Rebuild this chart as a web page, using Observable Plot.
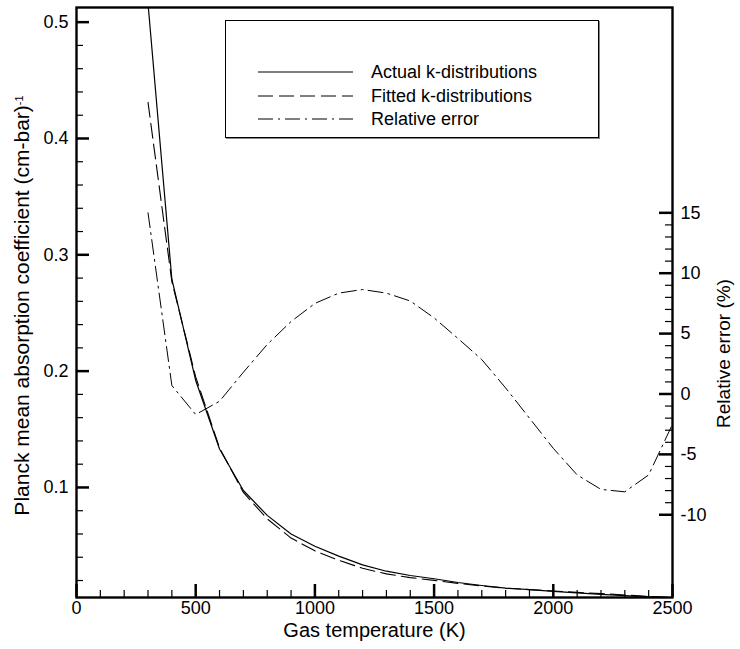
<!DOCTYPE html>
<html><head><meta charset="utf-8">
<script src="https://cdn.jsdelivr.net/npm/d3@7"></script>
<script src="https://cdn.jsdelivr.net/npm/@observablehq/plot@0.6"></script>
<style>
body{margin:0;background:#fff;}
#wrap{position:relative;width:740px;height:649px;font-family:"Liberation Sans",Arial,Helvetica,sans-serif;}
#legend{position:absolute;left:225px;top:20px;width:372px;height:116px;border:1px solid #000;background:#fff;box-shadow:1px 1px 0 #888;}
</style></head><body><div id="wrap"></div>
<script>
// ---- data ----
const temperature = [300,400,500,600,700,800,900,1000,1100,1200,1300,1400,1500,1600,1700,1800,1900,2000,2100,2200,2300,2400,2500];
const actualK = [0.516,0.279,0.192,0.133,0.0974,0.076,0.060,0.0495,0.041,0.0335,0.028,0.0243,0.0215,0.0183,0.0157,0.0135,0.0121,0.0106,0.0093,0.0081,0.0070,0.0060,0.0052];
const fittedK = [0.431,0.277,0.195,0.134,0.0957,0.0730,0.0565,0.0455,0.0374,0.0305,0.0257,0.0225,0.0201,0.0175,0.0153,0.0134,0.0122,0.0110,0.0098,0.0087,0.0076,0.0064,0.0053];
const relError = [15.0,0.7,-1.7,-0.6,1.8,4.1,6.0,7.5,8.35,8.65,8.35,7.7,6.3,4.6,2.85,0.5,-2.0,-4.5,-6.7,-7.9,-8.1,-6.7,-2.5];
const seriesNames = ["Actual k-distributions","Fitted k-distributions","Relative error"];
const xTicks = [0,500,1000,1500,2000,2500];
const xMinorTicks = [100,200,300,400,600,700,800,900,1100,1200,1300,1400,1600,1700,1800,1900,2100,2200,2300,2400];
const yTicks = [0.1,0.2,0.3,0.4,0.5];
const yMinorTicks = [0.02,0.04,0.06,0.08,0.12,0.14,0.16,0.18,0.22,0.24,0.26,0.28,0.32,0.34,0.36,0.38,0.42,0.44,0.46,0.48];
const errTicks = [-10,-5,0,5,10,15];
const errMinorTicks = [-9,-8,-7,-6,-4,-3,-2,-1,1,2,3,4,6,7,8,9,11,12,13,14];
const xTitle = "Gas temperature (K)";
const yTitle = "Planck mean absorption coefficient (cm-bar)";
const errTitle = "Relative error (%)";

// ---- layout ----
const W = 740, H = 649, mL = 76, mR = 68, mT = 7, mB = 52;
const frameW = W - mL - mR, frameH = H - mT - mB;
const yDomain = [0.0054, 0.5126];
const errDomain = [-16.85, 32.0];
const errToY = d3.scaleLinear().domain(errDomain).range(yDomain);

const rows = temperature.map((T, i) => ({T, actual: actualK[i], fitted: fittedK[i], err: relError[i]}));

const dashFit = "15,6";
const dashErr = "15,5,2,5";

const chart = Plot.plot({
  width: W, height: H,
  marginLeft: mL, marginRight: mR, marginTop: mT, marginBottom: mB,
  style: {fontFamily: '"Liberation Sans", Arial, Helvetica, sans-serif', fontSize: "18px", color: "black", background: "white"},
  x: {domain: [0, 2500], label: null},
  y: {domain: yDomain, label: null},
  marks: [
    Plot.line(rows, {x: "T", y: "actual", stroke: "black", strokeWidth: 1.2, clip: true}),
    Plot.line(rows, {x: "T", y: "fitted", stroke: "black", strokeWidth: 1.1, strokeDasharray: dashFit, clip: true}),
    Plot.line(rows, {x: "T", y: d => errToY(d.err), stroke: "black", strokeWidth: 1, strokeDasharray: dashErr, clip: true}),
    Plot.tickX(xTicks, {x: d => d, insetTop: frameH - 13, strokeWidth: 2.5}),
    Plot.tickX(xMinorTicks, {x: d => d, insetTop: frameH - 7, strokeWidth: 1.2}),
    Plot.tickY(yTicks, {y: d => d, insetRight: frameW - 13, strokeWidth: 2.5}),
    Plot.tickY(yMinorTicks, {y: d => d, insetRight: frameW - 7, strokeWidth: 1.2}),
    Plot.tickY(errTicks, {y: d => errToY(d), insetLeft: frameW - 13, strokeWidth: 2.5}),
    Plot.tickY(errMinorTicks, {y: d => errToY(d), insetLeft: frameW - 7, strokeWidth: 1.2}),
    Plot.frame({stroke: "black", strokeWidth: 2.4}),
    Plot.axisX(xTicks, {tickSize: 0, tickPadding: 4, label: null, tickFormat: d => String(d)}),
    Plot.axisY(yTicks, {anchor: "left", tickSize: 0, tickPadding: 8, label: null, tickFormat: d => d.toFixed(1)}),
    Plot.axisY(errTicks.map(e => errToY(e)), {anchor: "right", tickSize: 0, tickPadding: 8, label: null,
      tickFormat: v => String(Math.round(errToY.invert(v)) + 0)}),
    Plot.text([xTitle], {text: d => d, frameAnchor: "bottom", textAnchor: "middle", dy: 39, fontSize: 20}),
    Plot.text([yTitle], {text: d => d, frameAnchor: "left", textAnchor: "middle", dx: -54, dy: 3, rotate: -90, fontSize: 21}),
    Plot.text([errTitle], {text: d => d, frameAnchor: "right", textAnchor: "middle", dx: 51, dy: 51, rotate: -90, fontSize: 19})
  ]
});

const wrap = document.getElementById("wrap");
wrap.appendChild(chart);

// superscript -1 on the y title
d3.select(chart).selectAll("text").filter(function(){ return this.textContent === yTitle; }).each(function(){
  const t = d3.select(this);
  t.text(null);
  t.append("tspan").text(yTitle);
  t.append("tspan").attr("dy", "-0.6em").attr("font-size", "11px").text("-1");
});

// legend
const legend = document.createElement("div");
legend.id = "legend";
wrap.appendChild(legend);
const lsvg = d3.select(legend).append("svg").attr("width", 372).attr("height", 116)
  .style("font-family", '"Liberation Sans", Arial, Helvetica, sans-serif').style("font-size", "18px");
const ly = [51, 75, 98];
const ldash = [null, dashFit, dashErr];
seriesNames.forEach((name, i) => {
  lsvg.append("line").attr("x1", 32).attr("x2", 127).attr("y1", ly[i]).attr("y2", ly[i])
    .attr("stroke", "black").attr("stroke-width", i === 0 ? 1.2 : 1).attr("stroke-dasharray", ldash[i]);
  lsvg.append("text").attr("x", 145).attr("y", ly[i]).attr("dy", "0.35em").attr("fill", "black").text(name);
});
</script></body></html>
